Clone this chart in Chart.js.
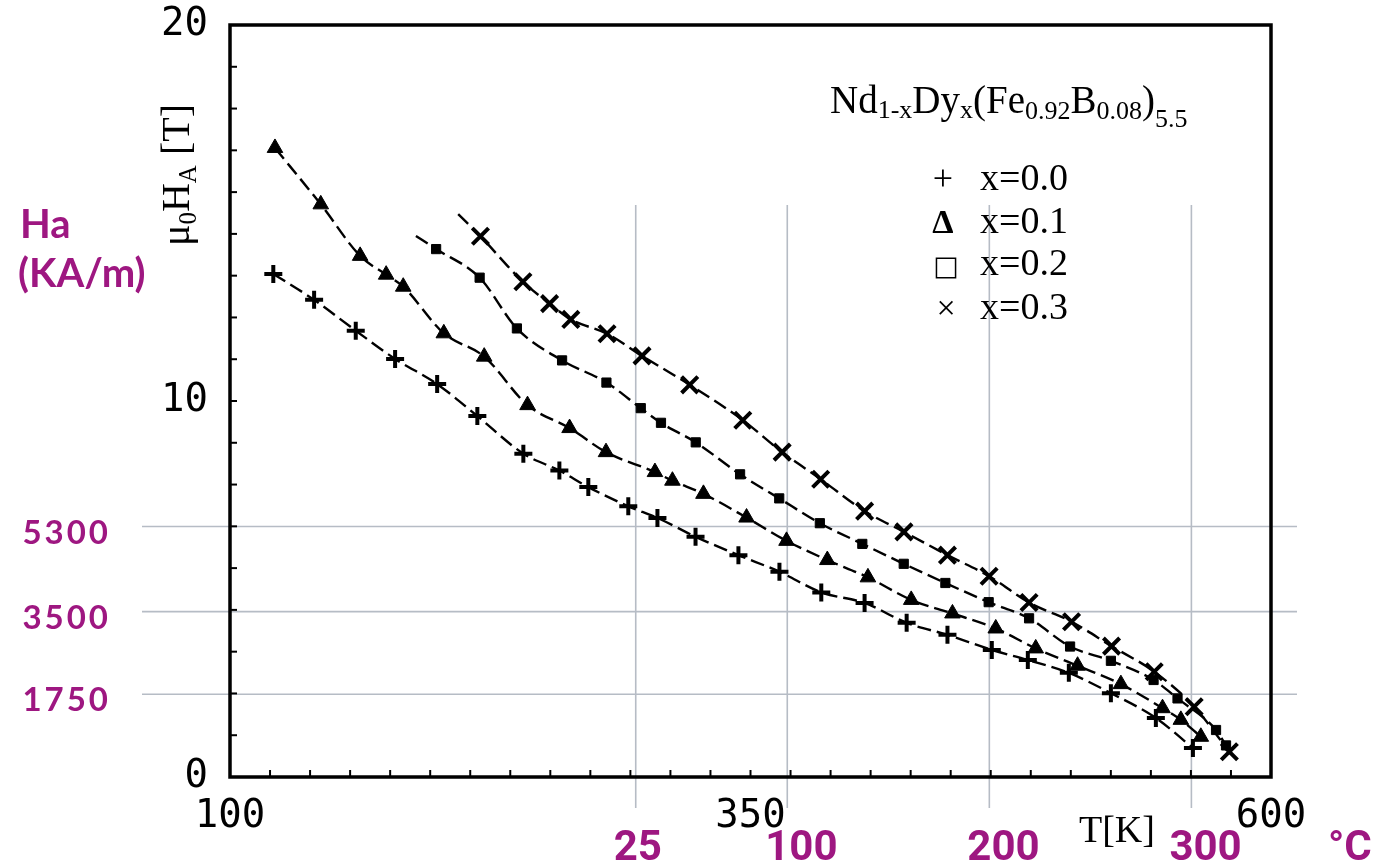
<!DOCTYPE html>
<html>
<head>
<meta charset="utf-8">
<script src="https://cdn.jsdelivr.net/npm/chart.js@4/dist/chart.umd.min.js"></script>
<style>
  html, body { margin: 0; padding: 0; background: #ffffff; }
  canvas { display: block; }
</style>
</head>
<body>
<canvas id="chart" width="1383" height="866"></canvas>
<script>
// Anisotropy field mu0*H_A [T] versus temperature T [K]
// Nd(1-x)Dy(x)(Fe0.92B0.08)5.5, four Dy contents

// x = 0.0  (+)
const tempK_x00 = [120.8, 140.4, 160.4, 179.3, 199.5, 218.8, 240.9, 258.2, 272.1, 291.3, 305.3, 323.6,
                   344.2, 363.9, 384.0, 404.8, 425.0, 444.6, 465.9, 483.2, 502.9, 523.1, 544.7, 562.5];
const field_x00 = [13.38, 12.69, 11.87, 11.12, 10.45, 9.60, 8.60, 8.15, 7.71, 7.20, 6.89, 6.39,
                   5.90, 5.46, 4.91, 4.63, 4.10, 3.78, 3.38, 3.11, 2.77, 2.23, 1.57, 0.77];

// x = 0.1  (triangles)
const tempK_x01 = [121.6, 143.6, 162.5, 175.0, 183.2, 202.7, 222.1, 242.9, 263.1, 280.6, 304.1, 312.5, 327.4,
                   348.1, 367.3, 386.9, 406.4, 427.2, 447.0, 467.8, 487.0, 507.1, 527.9, 547.9, 556.7, 566.3];
const field_x01 = [16.73, 15.23, 13.86, 13.36, 13.04, 11.80, 11.18, 9.89, 9.28, 8.64, 8.11, 7.88, 7.53,
                   6.90, 6.28, 5.77, 5.31, 4.71, 4.35, 3.95, 3.42, 2.96, 2.47, 1.83, 1.52, 1.07];

// x = 0.2  (squares)
const tempK_x02 = [199.0, 219.9, 237.8, 259.5, 280.8, 297.3, 307.0, 323.7, 345.0, 363.8, 383.3, 403.7,
                   423.6, 443.6, 464.4, 483.8, 503.5, 523.1, 543.6, 555.1, 573.6, 578.4];
const field_x02 = [14.04, 13.28, 11.93, 11.08, 10.49, 9.81, 9.42, 8.90, 8.05, 7.41, 6.75, 6.20,
                   5.67, 5.16, 4.65, 4.22, 3.47, 3.09, 2.58, 2.09, 1.25, 0.84];

// x = 0.3  (x marks)
const tempK_x03 = [220.3, 240.7, 253.5, 263.7, 281.1, 297.9, 320.8, 346.3, 365.2, 383.7, 404.8, 423.7,
                   444.6, 464.6, 483.8, 504.2, 523.4, 543.9, 563.1, 580.0];
const field_x03 = [14.38, 13.17, 12.59, 12.17, 11.79, 11.20, 10.43, 9.49, 8.64, 7.92, 7.07, 6.52,
                   5.90, 5.34, 4.64, 4.13, 3.48, 2.80, 1.87, 0.67];

// where the fitted curves for x = 0.2 and x = 0.3 begin, ahead of their first measured point
const curveStartK = [189.3, 209.6];
const curveStartField = [14.39, 14.97];

// axis labels
const kelvinLabels = [100, 350, 600];
const teslaLabels = [0, 10, 20];
const celsiusLines = [25, 100, 200, 300];
const kamLines = [5300, 3500, 1750];
const seriesNames = ['x=0.0', 'x=0.1', 'x=0.2', 'x=0.3'];

const PURPLE = '#9e1781';
const GRIDGREY = '#b6bcc5';

function pts(xs, ys, start) {
  const out = xs.map((x, i) => ({ x: x, y: ys[i] }));
  if (start) out.unshift({ x: start[0], y: start[1], lead: true });
  return out;
}

function series(data, style, radius, bw) {
  return {
    data: data,
    showLine: true,
    borderColor: '#000',
    backgroundColor: '#000',
    borderWidth: 2.4,
    borderDash: [14, 6],
    cubicInterpolationMode: 'monotone',
    pointStyle: style,
    pointRadius: c => (c.raw && c.raw.lead) ? 0 : radius,
    pointBorderWidth: bw,
    pointBorderColor: '#000',
    pointBackgroundColor: '#000',
    pointHoverRadius: radius
  };
}

function drawSubText(ctx, parts, x, y, mainFont, subFont) {
  // parts: [text, isSub, drop below the baseline]
  let cx = x;
  parts.forEach(p => {
    ctx.font = p[1] ? subFont : mainFont;
    const dy = p[1] ? (p[2] || 5) : 0;
    ctx.fillText(p[0], cx, y + dy);
    cx += ctx.measureText(p[0]).width;
  });
  return cx;
}

const decorations = {
  id: 'decorations',
  beforeDatasetsDraw(chart) {
    const ctx = chart.ctx;
    const xc = chart.scales.xC, yh = chart.scales.yH;
    ctx.save();
    ctx.strokeStyle = GRIDGREY;
    ctx.lineWidth = 1.6;
    celsiusLines.forEach(v => {
      const px = xc.getPixelForValue(v);
      ctx.beginPath(); ctx.moveTo(px, 205); ctx.lineTo(px, 808); ctx.stroke();
    });
    kamLines.forEach(v => {
      const py = yh.getPixelForValue(v);
      ctx.beginPath(); ctx.moveTo(142, py); ctx.lineTo(1297, py); ctx.stroke();
    });
    ctx.restore();
  },
  afterDraw(chart) {
    const ctx = chart.ctx;
    const a = chart.chartArea;
    const xs = chart.scales.x, ys = chart.scales.y;
    const xc = chart.scales.xC, yh = chart.scales.yH;
    ctx.save();

    // plot frame
    ctx.strokeStyle = '#000';
    ctx.lineWidth = 3.5;
    ctx.strokeRect(a.left, a.top, a.right - a.left, a.bottom - a.top);

    // inward tick marks
    ctx.lineWidth = 2;
    xs.ticks.forEach(t => {
      const px = xs.getPixelForValue(t.value);
      ctx.beginPath(); ctx.moveTo(px, a.bottom); ctx.lineTo(px, a.bottom - 7); ctx.stroke();
    });
    ys.ticks.forEach(t => {
      const py = ys.getPixelForValue(t.value);
      ctx.beginPath(); ctx.moveTo(a.left, py); ctx.lineTo(a.left + 7, py); ctx.stroke();
    });

    // y axis title: mu0 H_A [T]
    ctx.save();
    ctx.translate(189, 246);
    ctx.rotate(-Math.PI / 2);
    ctx.fillStyle = '#000';
    ctx.textBaseline = 'alphabetic';
    drawSubText(ctx, [['\u03bc', false], ['0', true, 7], ['H', false], ['A', true, 7], [' [T]', false]],
                0, 0, '40px "Liberation Serif"', '25px "Liberation Serif"');
    ctx.restore();

    // x axis title
    ctx.fillStyle = '#000';
    ctx.font = '38px "Liberation Serif"';
    ctx.textAlign = 'left';
    ctx.textBaseline = 'alphabetic';
    ctx.fillText('T[K]', 1079, 842);

    // compound formula
    drawSubText(ctx, [['Nd', false], ['1-x', true, 5], ['Dy', false], ['x', true, 5], ['(Fe', false],
                      ['0.92', true, 6], ['B', false], ['0.08', true, 6], [')', false], ['5.5', true, 14]],
                830, 113, '39px "Liberation Serif"', '26px "Liberation Serif"');

    // legend
    const rows = [190, 233, 275, 319];
    const syms = [['+', '36px "Liberation Serif"'], ['\u0394', 'bold 34px "Liberation Serif"'],
                  ['\u25a1', '27px "DejaVu Sans"'], ['\u00d7', '34px "Liberation Serif"']];
    rows.forEach((by, i) => {
      ctx.textAlign = 'center';
      ctx.font = syms[i][1];
      ctx.fillText(syms[i][0], i < 2 ? 943 : 946, by);
      ctx.textAlign = 'left';
      ctx.font = '38px "Liberation Serif"';
      ctx.fillText(seriesNames[i], 980, by);
    });

    // secondary scales in kA/m and degrees Celsius
    ctx.fillStyle = PURPLE;
    ctx.font = 'bold 40px Lato';
    ctx.textAlign = 'left';
    ctx.fillText('Ha', 20, 238);
    ctx.fillText('(KA/m)', 18, 287);

    ctx.font = 'bold 33px Lato';
    ctx.textAlign = 'right';
    ctx.letterSpacing = '3px';
    kamLines.forEach(v => {
      const py = yh.getPixelForValue(v);
      ctx.fillText(String(v), 111, py + 17);
    });
    ctx.letterSpacing = '0px';

    ctx.font = 'bold 42px Roboto';
    ctx.textAlign = 'left';
    celsiusLines.forEach(v => {
      const px = xc.getPixelForValue(v);
      ctx.fillText(String(v), px - 22, 860);
    });
    ctx.fillText('\u00b0C', 1328, 860);

    ctx.restore();
  }
};

const ctx = document.getElementById('chart').getContext('2d');
new Chart(ctx, {
  type: 'scatter',
  data: {
    datasets: [
      series(pts(tempK_x00, field_x00), 'cross', 9, 4),
      series(pts(tempK_x01, field_x01), 'triangle', 9, 1),
      series(pts(tempK_x02, field_x02, [curveStartK[0], curveStartField[0]]), 'rect', 6.5, 1),
      series(pts(tempK_x03, field_x03, [curveStartK[1], curveStartField[1]]), 'crossRot', 11.5, 4)
    ]
  },
  options: {
    responsive: false,
    animation: false,
    devicePixelRatio: 1,
    layout: { padding: { top: 25, right: 112, left: 0, bottom: 0 } },
    plugins: { legend: { display: false }, tooltip: { enabled: false }, title: { display: false } },
    scales: {
      x: {
        type: 'linear',
        position: 'bottom',
        min: 100, max: 600,
        afterBuildTicks: s => { s.ticks = Array.from({ length: 27 }, (_, i) => ({ value: 100 + i * 500 / 26 })); },
        afterFit: s => { s.height = 89; s.paddingLeft = 0; s.paddingRight = 0; },
        grid: { display: false, drawTicks: false },
        border: { display: false },
        ticks: {
          autoSkip: false, maxRotation: 0, padding: 16,
          color: '#000', font: { family: '"DejaVu Sans Mono"', size: 39 },
          callback: (v, i) => (i % 13 === 0 ? String(kelvinLabels[i / 13]) : '')
        }
      },
      y: {
        type: 'linear',
        position: 'left',
        min: 0, max: 20,
        afterBuildTicks: s => { s.ticks = Array.from({ length: 19 }, (_, i) => ({ value: i * 20 / 18 })); },
        afterFit: s => { s.width = 230; s.paddingTop = 0; s.paddingBottom = 0; },
        grid: { display: false, drawTicks: false },
        border: { display: false },
        ticks: {
          autoSkip: false, padding: 22,
          color: '#000', font: { family: '"DejaVu Sans Mono"', size: 39 },
          callback: (v, i) => (i % 9 === 0 ? String(teslaLabels[i / 9]) : '')
        }
      },
      xC: { type: 'linear', position: 'bottom', display: false, min: -175.8, max: 339.4 },
      yH: { type: 'linear', position: 'left', display: false, min: 0, max: 15915 }
    }
  },
  plugins: [decorations]
});
</script>
</body>
</html>
